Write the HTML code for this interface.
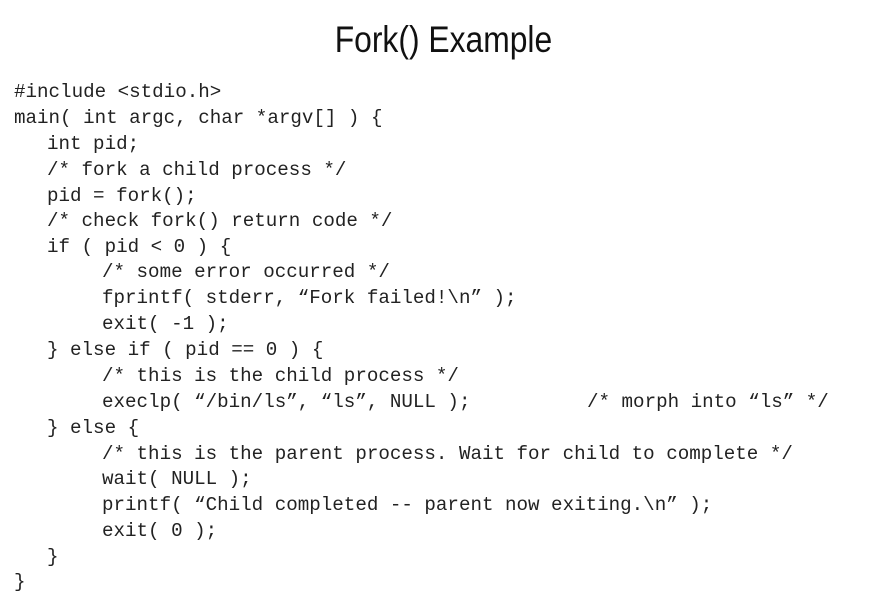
<!DOCTYPE html>
<html><head><meta charset="utf-8"><style>
body{margin:0;width:871px;height:598px;background:#fff;position:relative;overflow:hidden}
.t{position:absolute;left:8px;width:871px;top:19px;text-align:center;font-family:"Liberation Sans",sans-serif;font-size:37px;color:#111}
.t span{display:inline-block;transform:scaleX(0.86)}
.l{position:absolute;font-family:"Liberation Mono",monospace;font-size:19.2px;line-height:24px;color:#222;white-space:pre;letter-spacing:0}
</style></head><body>
<div class="t"><span>Fork() Example</span></div>
<div class="l" style="left:14px;top:80px">#include &lt;stdio.h&gt;</div>
<div class="l" style="left:14px;top:106px">main( int argc, char *argv[] ) {</div>
<div class="l" style="left:47px;top:132px">int pid;</div>
<div class="l" style="left:47px;top:158px">/* fork a child process */</div>
<div class="l" style="left:47px;top:184px">pid = fork();</div>
<div class="l" style="left:47px;top:209px">/* check fork() return code */</div>
<div class="l" style="left:47px;top:235px">if ( pid &lt; 0 ) {</div>
<div class="l" style="left:102px;top:260px">/* some error occurred */</div>
<div class="l" style="left:102px;top:286px">fprintf( stderr, “Fork failed!\n” );</div>
<div class="l" style="left:102px;top:312px">exit( -1 );</div>
<div class="l" style="left:47px;top:338px">} else if ( pid == 0 ) {</div>
<div class="l" style="left:102px;top:364px">/* this is the child process */</div>
<div class="l" style="left:102px;top:390px">execlp( “/bin/ls”, “ls”, NULL );</div>
<div class="l" style="left:587px;top:390px">/* morph into “ls” */</div>
<div class="l" style="left:47px;top:416px">} else {</div>
<div class="l" style="left:102px;top:442px">/* this is the parent process. Wait for child to complete */</div>
<div class="l" style="left:102px;top:467px">wait( NULL );</div>
<div class="l" style="left:102px;top:493px">printf( “Child completed -- parent now exiting.\n” );</div>
<div class="l" style="left:102px;top:519px">exit( 0 );</div>
<div class="l" style="left:47px;top:545px">}</div>
<div class="l" style="left:14px;top:570px">}</div>
</body></html>
